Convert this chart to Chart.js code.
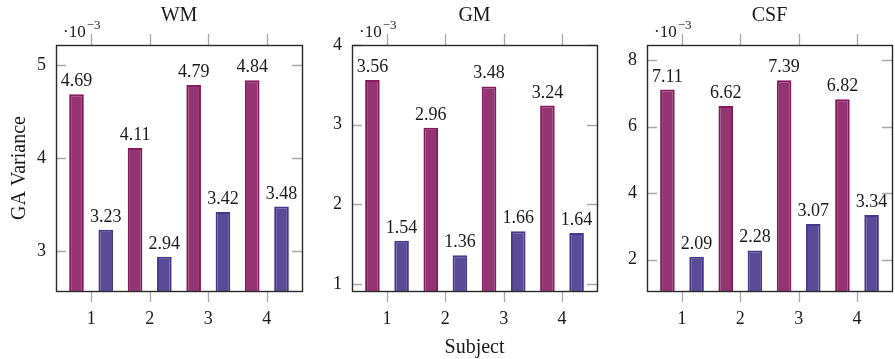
<!DOCTYPE html>
<html>
<head>
<meta charset="utf-8">
<script src="https://cdn.jsdelivr.net/npm/chart.js@4.4.0/dist/chart.umd.min.js"></script>
<style>
  body { margin: 0; background: #fff; }
  #wrap { position: relative; width: 895px; height: 359px; }
  canvas { position: absolute; top: 0; }
</style>
</head>
<body>
<div id="wrap">
  <canvas id="wm" width="305" height="359" style="left:0px"></canvas>
  <canvas id="gm" width="295" height="359" style="left:305px"></canvas>
  <canvas id="csf" width="295" height="359" style="left:600px"></canvas>
</div>
<script>
// Data (values are x 10^-3)
const subjects = [1, 2, 3, 4];

const wmFirst = [4.69, 4.11, 4.79, 4.84];
const wmSecond = [3.23, 2.94, 3.42, 3.48];
const gmFirst = [3.56, 2.96, 3.48, 3.24];
const gmSecond = [1.54, 1.36, 1.66, 1.64];
const csfFirst = [7.11, 6.62, 7.39, 6.82];
const csfSecond = [2.09, 2.28, 3.07, 3.34];

const wmTicks = [3, 4, 5];
const gmTicks = [1, 2, 3, 4];
const csfTicks = [2, 4, 6, 8];

const serif = "'Liberation Serif', 'DejaVu Serif', serif";
const textColor = '#1a1a1a';

// Frame, tick marks, titles and bar labels, pgfplots style
const pgfPlugin = {
    id: 'pgf',
    afterDatasetsDraw(chart, args, opts) {
        const ctx = chart.ctx;
        const a = chart.chartArea;
        const xs = chart.scales.x;
        const ys = chart.scales.y;

        // value labels above bars
        ctx.save();
        ctx.fillStyle = textColor;
        ctx.font = '18px ' + serif;
        ctx.textAlign = 'center';
        ctx.textBaseline = 'alphabetic';
        chart.data.datasets.forEach((ds, di) => {
            chart.getDatasetMeta(di).data.forEach((bar, i) => {
                ctx.fillText(ds.data[i].y.toFixed(2), bar.x, bar.y - 8);
            });
        });
        ctx.restore();

        // tick marks
        ctx.save();
        ctx.strokeStyle = '#a8a8a8';
        ctx.lineWidth = 1.3;
        ctx.beginPath();
        ys.ticks.forEach(t => {
            const y = Math.round(ys.getPixelForValue(t.value)) + 0.5;
            ctx.moveTo(a.left, y); ctx.lineTo(a.left + 10, y);
            ctx.moveTo(a.right, y); ctx.lineTo(a.right - 10, y);
        });
        xs.ticks.forEach(t => {
            const x = Math.round(xs.getPixelForValue(t.value)) + 0.5;
            ctx.moveTo(x, a.top); ctx.lineTo(x, a.top - 11);
            ctx.moveTo(x, a.bottom); ctx.lineTo(x, a.bottom + 11);
        });
        ctx.stroke();

        // axis box
        ctx.strokeStyle = '#2a2a2a';
        ctx.lineWidth = 1.4;
        ctx.strokeRect(Math.round(a.left) + 0.5, Math.round(a.top) + 0.5,
            Math.round(a.right - a.left), Math.round(a.bottom - a.top));
        ctx.restore();

        // title and exponent
        ctx.save();
        ctx.fillStyle = textColor;
        ctx.textBaseline = 'alphabetic';
        ctx.textAlign = 'center';
        ctx.font = '20px ' + serif;
        ctx.fillText(opts.title, (a.left + a.right) / 2, 21);
        ctx.textAlign = 'left';
        ctx.font = '17px ' + serif;
        const x0 = a.left + 7;
        ctx.fillText('\u00b710', x0, 37);
        const w = ctx.measureText('\u00b710').width;
        ctx.font = '13px ' + serif;
        ctx.fillText('\u22123', x0 + w + 1, 29);
        ctx.restore();

        // axis titles
        ctx.save();
        ctx.fillStyle = textColor;
        ctx.font = '20px ' + serif;
        ctx.textAlign = 'center';
        if (opts.yTitle) {
            ctx.translate(25, (a.top + a.bottom) / 2);
            ctx.rotate(-Math.PI / 2);
            ctx.textBaseline = 'alphabetic';
            ctx.fillText(opts.yTitle, 0, 0);
        }
        ctx.restore();
        if (opts.xTitle) {
            ctx.save();
            ctx.fillStyle = textColor;
            ctx.font = '20px ' + serif;
            ctx.textAlign = 'center';
            ctx.fillText(opts.xTitle, (a.left + a.right) / 2, 353);
            ctx.restore();
        }
    }
};

function makePanel(id, title, first, second, yTicks, yMin, yMax, yWidth, extra) {
    const toPoints = arr => arr.map((v, i) => ({ x: subjects[i], y: v }));
    return new Chart(document.getElementById(id), {
        type: 'bar',
        data: {
            datasets: [{
                data: toPoints(first),
                backgroundColor: '#943472',
                borderColor: '#84195b',
                borderWidth: 2,
                categoryPercentage: 1.0,
                barPercentage: 0.5
            }, {
                data: toPoints(second),
                backgroundColor: '#5a4b97',
                borderColor: '#45378c',
                borderWidth: 2,
                categoryPercentage: 1.0,
                barPercentage: 0.5
            }]
        },
        options: {
            responsive: false,
            animation: false,
            layout: { padding: { top: 45, right: 3, left: 0, bottom: 0 } },
            plugins: {
                legend: { display: false },
                tooltip: { enabled: false },
                pgf: Object.assign({ title: title }, extra)
            },
            scales: {
                x: {
                    type: 'linear',
                    min: 0.4,
                    max: 4.6,
                    offset: false,
                    grid: { display: false, drawTicks: false },
                    border: { display: false },
                    afterBuildTicks: s => { s.ticks = subjects.map(v => ({ value: v })); },
                    afterFit: s => { s.height = 68; },
                    ticks: {
                        padding: 17,
                        color: textColor,
                        font: { family: serif, size: 18 }
                    }
                },
                y: {
                    min: yMin,
                    max: yMax,
                    grid: { display: false, drawTicks: false },
                    border: { display: false },
                    afterBuildTicks: s => { s.ticks = yTicks.map(v => ({ value: v })); },
                    afterFit: s => { s.width = yWidth; },
                    ticks: {
                        padding: 10,
                        color: textColor,
                        font: { family: serif, size: 18 }
                    }
                }
            }
        },
        plugins: [pgfPlugin]
    });
}

makePanel('wm', 'WM', wmFirst, wmSecond, wmTicks, 2.57, 5.22, 56, { yTitle: 'GA Variance' });
makePanel('gm', 'GM', gmFirst, gmSecond, gmTicks, 0.91, 4.0, 47, { xTitle: 'Subject' });
makePanel('csf', 'CSF', csfFirst, csfSecond, csfTicks, 1.06, 8.45, 47, {});
</script>
</body>
</html>
